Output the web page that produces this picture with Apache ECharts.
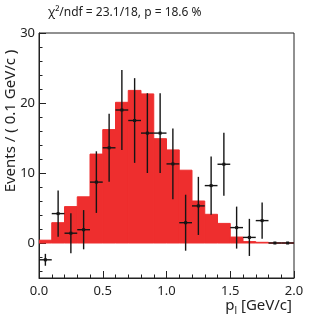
<!DOCTYPE html>
<html><head><meta charset="utf-8">
<script src="https://cdn.jsdelivr.net/npm/echarts@6/dist/echarts.min.js"></script>
<style>html,body{margin:0;padding:0;background:#fff}#c{width:327px;height:322px}</style>
</head><body><div id="c"></div>
<script>
// bin lower edges (GeV/c)
const binLow = [0.0,0.1,0.2,0.3,0.4,0.5,0.6,0.7,0.8,0.9,1.0,1.1,1.2,1.3,1.4,1.5,1.6,1.7,1.8,1.9];
const binWidth = 0.1;
// fitted histogram (red)
const fitValues = [0.4,2.9,5.2,6.6,12.7,16.2,20.1,21.8,21.3,14.9,13.3,10.4,6.0,4.1,2.8,0.85,0.2,0.1,0.0,0.0];
// data points with errors
const dataValues = [-2.4,4.2,1.4,1.9,8.7,13.6,19.0,17.5,15.7,15.7,11.3,2.9,5.3,8.2,11.25,2.2,0.8,3.2,0.0,0.0];
const dataErrors = [0.85,3.3,2.85,2.8,4.4,4.85,5.7,6.05,5.7,5.7,5.05,4.0,4.15,4.15,4.5,3.0,2.65,2.6,0.0,0.0];
const yMajorTicks = [0,10,20,30];
const yMinorTicks = [-4,-2,2,4,6,8,12,14,16,18,22,24,26,28];
const titleText = 'χ²/ndf = 23.1/18, p = 18.6 %';

const FONT = '"Noto Sans", sans-serif';
const TXT = '#222';
const RED = '#ee2e2e';

const histData = binLow.map((x, i) => [x, fitValues[i]]);
const pointData = binLow.map((x, i) => [x + binWidth / 2, dataValues[i], dataErrors[i]]);

const chart = echarts.init(document.getElementById('c'), null, {renderer: 'canvas'});
chart.setOption({
  animation: false,
  backgroundColor: '#fff',
  title: {
    text: titleText, left: 43, top: 2,
    textStyle: {fontFamily: FONT, fontSize: 12, fontWeight: 'normal', color: TXT}
  },
  grid: {left: 39, right: 33, top: 33, bottom: 44, show: true, borderColor: '#222', borderWidth: 1, backgroundColor: 'transparent'},
  xAxis: {
    type: 'value', min: 0, max: 2, interval: 0.5,
    axisLine: {onZero: false, lineStyle: {color: '#222', width: 1}},
    axisTick: {inside: true, length: 7, lineStyle: {color: '#222'}},
    minorTick: {show: true, splitNumber: 5, length: 3.5, lineStyle: {color: '#222'}},
    splitLine: {show: false},
    axisLabel: {formatter: v => v.toFixed(1), fontFamily: FONT, fontSize: 13, color: TXT, margin: 7}
  },
  yAxis: [
    {
      type: 'value', min: -5, max: 30, position: 'left',
      axisLine: {show: true, onZero: false, lineStyle: {color: '#222', width: 1}},
      axisTick: {show: true, inside: true, length: 7, customValues: yMajorTicks, lineStyle: {color: '#222'}},
      minorTick: {show: false},
      splitLine: {show: false},
      axisLabel: {customValues: yMajorTicks, formatter: v => String(v), fontFamily: FONT, fontSize: 13, color: TXT, margin: 4}
    },
    {
      type: 'value', min: -5, max: 30, position: 'left', offset: 0,
      axisLine: {show: false},
      axisTick: {show: true, inside: true, length: 3.5, customValues: yMinorTicks, lineStyle: {color: '#222'}},
      minorTick: {show: false},
      splitLine: {show: false},
      axisLabel: {show: false}
    }
  ],
  graphic: [
    {type: 'text', x: 11, y: 121, rotation: Math.PI / 2,
     style: {text: 'Events / ( 0.1 GeV/c )', fontFamily: FONT, fontSize: 15, fill: TXT, align: 'center', verticalAlign: 'middle'}},
    {type: 'text', x: 292, y: 306,
     style: {text: '{a|p}{b|l} [GeV/c]', align: 'right', verticalAlign: 'middle', fill: TXT, fontFamily: FONT, fontSize: 15,
       rich: {a: {fontFamily: FONT, fontSize: 15, fill: TXT}, b: {fontFamily: FONT, fontSize: 10, fill: TXT, padding: [10, 0, 0, 0]}}}}
  ],
  series: [
    {
      type: 'custom', clip: true, data: histData, z: 1, yAxisIndex: 0,
      renderItem: (params, api) => {
        const x0 = api.value(0), v = api.value(1);
        const p0 = api.coord([x0, 0]);
        const p1 = api.coord([x0 + binWidth, v]);
        return {type: 'rect', shape: {x: p0[0], y: Math.min(p0[1], p1[1]), width: p1[0] - p0[0], height: Math.abs(p0[1] - p1[1])},
                style: {fill: RED, stroke: RED, lineWidth: 1}};
      }
    },
    {
      type: 'custom', clip: true, data: pointData, z: 3, yAxisIndex: 0,
      renderItem: (params, api) => {
        const x = api.value(0), y = api.value(1), e = api.value(2);
        const c = api.coord([x, y]);
        const l = api.coord([x - binWidth / 2, y]);
        const r = api.coord([x + binWidth / 2, y]);
        const t = api.coord([x, y + e]);
        const b = api.coord([x, y - e]);
        const st = {stroke: '#151515', lineWidth: 1.4};
        return {type: 'group', children: [
          {type: 'line', shape: {x1: l[0], y1: l[1], x2: r[0], y2: r[1]}, style: st},
          {type: 'line', shape: {x1: t[0], y1: t[1], x2: b[0], y2: b[1]}, style: st},
          {type: 'rect', shape: {x: c[0] - 1.5, y: c[1] - 1.5, width: 3, height: 3}, style: {fill: '#151515'}}
        ]};
      }
    }
  ]
});
</script></body></html>
